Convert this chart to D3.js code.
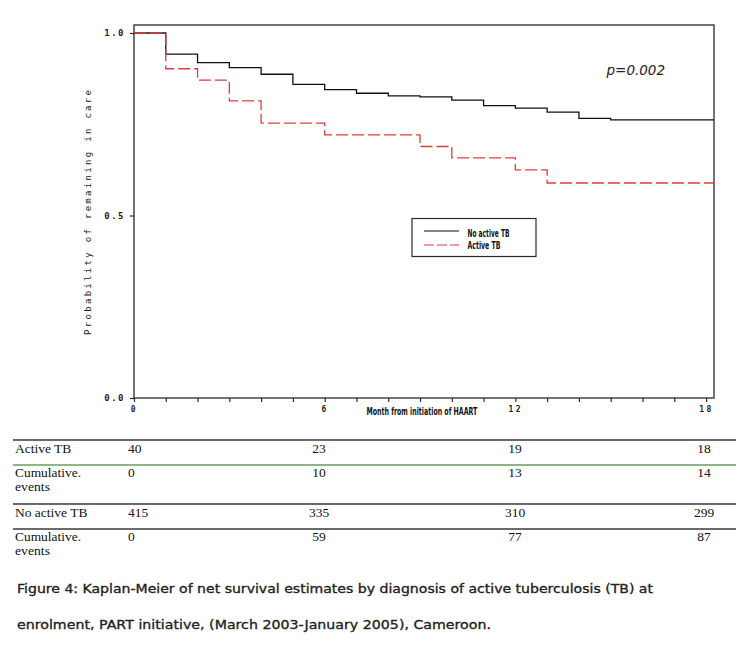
<!DOCTYPE html>
<html>
<head>
<meta charset="utf-8">
<script src="https://cdn.jsdelivr.net/npm/d3@7"></script>
<style>
  html, body { margin: 0; padding: 0; background: #fff; }
  svg { display: block; }
</style>
</head>
<body>
<svg id="chart" width="751" height="653"></svg>
<script>
// ---------- DATA ----------
const xTickValues = [0,1,2,3,4,5,6,7,8,9,10,11,12,13,14,15,16,17,18];
const xTickLabels = {0: "0", 6: "6", 12: "12", 18: "18"};
const yTickValues = [0, 0.5, 1];
const yTickLabels = ["0.0", "0.5", "1.0"];

const noTBMonths = [0, 1, 2, 3, 4, 5, 6, 7, 8, 9, 10, 11, 12, 13, 14, 15, 18.25];
const noTBSurv   = [1, 0.942, 0.919, 0.905, 0.887, 0.859, 0.845, 0.835, 0.828, 0.825, 0.816, 0.801, 0.794, 0.783, 0.766, 0.762, 0.762];

const tbMonths = [0, 1, 2, 3, 4, 6, 9, 10, 12, 13, 18.25];
const tbSurv   = [1, 0.902, 0.871, 0.814, 0.753, 0.721, 0.689, 0.658, 0.625, 0.589, 0.589];

const seriesNames = ["No active TB", "Active TB"];
const pValueText = "p=0.002";

const tableRows = [
  {label: ["Active TB"], values: ["40", "23", "19", "18"]},
  {label: ["Cumulative.", "events"], values: ["0", "10", "13", "14"]},
  {label: ["No active TB"], values: ["415", "335", "310", "299"]},
  {label: ["Cumulative.", "events"], values: ["0", "59", "77", "87"]}
];
const captionLines = [
  "Figure 4: Kaplan-Meier of net survival estimates by diagnosis of active tuberculosis (TB) at",
  "enrolment, PART initiative, (March 2003-January 2005), Cameroon."
];

// ---------- LAYOUT ----------
const svg = d3.select("#chart");
const L = 134, R = 714, T = 25, B = 398;
const x = d3.scaleLinear().domain([0, 18.25]).range([L, R]);
const y = d3.scaleLinear().domain([0, 1]).range([B, 33]);

const frameColor = "#2a2a2a";
const redColor = "#e23b3b";

// horizontally squeeze a text so it spans `w` pixels starting at (px, py)
function squeeze(sel, px, py, w) {
  const n = sel.node();
  const nat = n.getComputedTextLength();
  const s = w / nat;
  sel.attr("x", 0).attr("y", 0)
     .attr("transform", `translate(${px},${py}) scale(${s},1)`);
}

// frame
svg.append("rect")
  .attr("x", L).attr("y", T).attr("width", R - L).attr("height", B - T)
  .attr("fill", "none").attr("stroke", frameColor).attr("stroke-width", 1.3);

// x axis
const xAxis = d3.axisBottom(x).tickValues(xTickValues).tickSize(4)
  .tickFormat(d => xTickLabels[d] !== undefined ? xTickLabels[d] : "");
const gx = svg.append("g").attr("transform", `translate(0,${B})`).call(xAxis);
gx.select(".domain").remove();
gx.selectAll(".tick line").attr("stroke", frameColor).attr("stroke-width", 1.2);
gx.selectAll(".tick text")
  .attr("y", 8).attr("dy", "0.71em")
  .attr("font-family", "DejaVu Sans Mono").attr("font-size", 8).attr("font-weight", "bold")
  .attr("letter-spacing", 2.5).attr("fill", "#222");

// y axis
const yAxis = d3.axisLeft(y).tickValues(yTickValues).tickSize(4)
  .tickFormat((d, i) => yTickLabels[i]);
const gy = svg.append("g").attr("transform", `translate(${L},0)`).call(yAxis);
gy.select(".domain").remove();
gy.selectAll(".tick line").attr("stroke", frameColor).attr("stroke-width", 1.2);
gy.selectAll(".tick text")
  .attr("x", -9)
  .attr("font-family", "DejaVu Sans Mono").attr("font-size", 9).attr("font-weight", "bold")
  .attr("letter-spacing", 1.5).attr("fill", "#222");

// axis titles
const xt = svg.append("text")
  .attr("font-family", "DejaVu Sans")
  .attr("font-weight", "bold").attr("font-size", 10).attr("fill", "#111")
  .text("Month from initiation of HAART");
squeeze(xt, 366.5, 414.5, 111);

svg.append("text")
  .attr("transform", "translate(91,335) rotate(-90)")
  .attr("font-family", "DejaVu Sans Mono").attr("font-size", 9).attr("fill", "#222")
  .attr("textLength", 245).attr("lengthAdjust", "spacing")
  .text("Probability of remaining in care");

// curves
const line = d3.line().x(d => x(d[0])).y(d => y(d[1])).curve(d3.curveStepAfter);
svg.append("path")
  .datum(d3.zip(noTBMonths, noTBSurv))
  .attr("d", line).attr("fill", "none")
  .attr("stroke", "#111").attr("stroke-width", 1.3);
svg.append("path")
  .datum(d3.zip(tbMonths, tbSurv))
  .attr("d", line).attr("fill", "none")
  .attr("stroke", redColor).attr("stroke-width", 1.3)
  .attr("stroke-dasharray", "12,4");

// p value
svg.append("text")
  .attr("x", 606.5).attr("y", 75)
  .attr("font-family", "DejaVu Sans").attr("font-style", "italic")
  .attr("font-size", 13.5).attr("fill", "#222")
  .text(pValueText);

// legend
const lg = svg.append("g");
lg.append("rect").attr("x", 412).attr("y", 218.5).attr("width", 124).attr("height", 38)
  .attr("fill", "#fff").attr("stroke", frameColor).attr("stroke-width", 1.2);
lg.append("line").attr("x1", 424).attr("x2", 459).attr("y1", 231).attr("y2", 231)
  .attr("stroke", "#111").attr("stroke-width", 1.2);
lg.append("line").attr("x1", 424).attr("x2", 459).attr("y1", 245).attr("y2", 245)
  .attr("stroke", redColor).attr("stroke-width", 1.2).attr("stroke-dasharray", "10,3");
const legendWidths = [42, 33];
seriesNames.forEach((n, i) => {
  const t = lg.append("text")
    .attr("font-family", "DejaVu Sans")
    .attr("font-weight", "bold").attr("font-size", 10.5).attr("fill", "#111")
    .text(n);
  squeeze(t, 467.5, 236.5 + i * 12, legendWidths[i]);
});

// ---------- TABLE ----------
const tableLines = [
  {y: 440, c: "#3a3a3a"},
  {y: 465, c: "#62a05a"},
  {y: 504, c: "#3a3a3a"},
  {y: 529, c: "#3a3a3a"}
];
svg.selectAll(".tline").data(tableLines).enter().append("line")
  .attr("x1", 13).attr("x2", 736)
  .attr("y1", d => d.y).attr("y2", d => d.y)
  .attr("stroke", d => d.c).attr("stroke-width", 1.3);

const rowBase = [453, 477, 517, 541];
const colX = [128, 319, 515, 704];
const tf = "Liberation Serif";
const labelWidths = {"Cumulative.": 66, "events": 35};
tableRows.forEach((row, r) => {
  row.label.forEach((t, k) => {
    const single = row.label.length === 1;
    const el = svg.append("text").attr("x", 15).attr("y", rowBase[r] + k * 13.5)
      .attr("font-family", tf).attr("font-size", single ? 13.5 : 12).attr("fill", "#111")
      .text(t);
    if (!single) el.attr("textLength", labelWidths[t]).attr("lengthAdjust", "spacingAndGlyphs");
  });
  row.values.forEach((v, c) => {
    svg.append("text").attr("x", colX[c]).attr("y", rowBase[r])
      .attr("text-anchor", c === 0 ? "start" : "middle")
      .attr("font-family", tf).attr("font-size", 13.5).attr("fill", "#111").text(v);
  });
});

// ---------- CAPTION ----------
const capWidths = [636, 474];
captionLines.forEach((t, i) => {
  svg.append("text")
    .attr("x", 17).attr("y", 592.5 + i * 36)
    .attr("font-family", "DejaVu Sans").attr("font-size", 13)
    .attr("fill", "#222").attr("stroke", "#222").attr("stroke-width", 0.35)
    .attr("textLength", capWidths[i]).attr("lengthAdjust", "spacingAndGlyphs")
    .text(t);
});
</script>
</body>
</html>
